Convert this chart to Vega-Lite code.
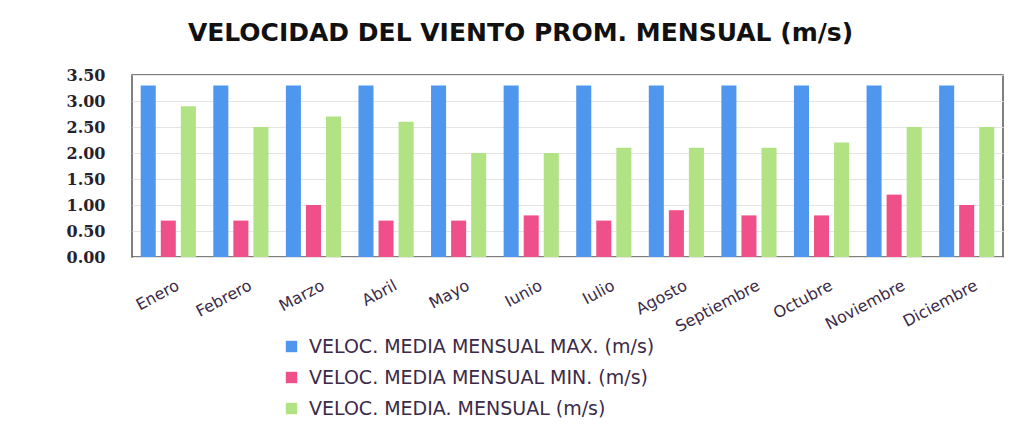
{
  "$schema": "https://vega.github.io/schema/vega-lite/v6.json",
  "width": 871,
  "height": 182,
  "autosize": {"type": "none"},
  "padding": {"left": 132, "top": 75, "right": 17, "bottom": 171},
  "background": "white",
  "title": {
    "text": "VELOCIDAD DEL VIENTO PROM. MENSUAL (m/s)",
    "anchor": "middle",
    "frame": "group",
    "dx": -47,
    "offset": 21,
    "font": "DejaVu Sans",
    "fontSize": 25,
    "fontWeight": "bold",
    "color": "#111111"
  },
  "data": {
    "values": [
      {"mes": "Enero", "serie": "VELOC. MEDIA MENSUAL MAX. (m/s)", "valor": 3.3},
      {"mes": "Febrero", "serie": "VELOC. MEDIA MENSUAL MAX. (m/s)", "valor": 3.3},
      {"mes": "Marzo", "serie": "VELOC. MEDIA MENSUAL MAX. (m/s)", "valor": 3.3},
      {"mes": "Abril", "serie": "VELOC. MEDIA MENSUAL MAX. (m/s)", "valor": 3.3},
      {"mes": "Mayo", "serie": "VELOC. MEDIA MENSUAL MAX. (m/s)", "valor": 3.3},
      {"mes": "Iunio", "serie": "VELOC. MEDIA MENSUAL MAX. (m/s)", "valor": 3.3},
      {"mes": "Iulio", "serie": "VELOC. MEDIA MENSUAL MAX. (m/s)", "valor": 3.3},
      {"mes": "Agosto", "serie": "VELOC. MEDIA MENSUAL MAX. (m/s)", "valor": 3.3},
      {"mes": "Septiembre", "serie": "VELOC. MEDIA MENSUAL MAX. (m/s)", "valor": 3.3},
      {"mes": "Octubre", "serie": "VELOC. MEDIA MENSUAL MAX. (m/s)", "valor": 3.3},
      {"mes": "Noviembre", "serie": "VELOC. MEDIA MENSUAL MAX. (m/s)", "valor": 3.3},
      {"mes": "Diciembre", "serie": "VELOC. MEDIA MENSUAL MAX. (m/s)", "valor": 3.3},
      {"mes": "Enero", "serie": "VELOC. MEDIA MENSUAL MIN. (m/s)", "valor": 0.7},
      {"mes": "Febrero", "serie": "VELOC. MEDIA MENSUAL MIN. (m/s)", "valor": 0.7},
      {"mes": "Marzo", "serie": "VELOC. MEDIA MENSUAL MIN. (m/s)", "valor": 1.0},
      {"mes": "Abril", "serie": "VELOC. MEDIA MENSUAL MIN. (m/s)", "valor": 0.7},
      {"mes": "Mayo", "serie": "VELOC. MEDIA MENSUAL MIN. (m/s)", "valor": 0.7},
      {"mes": "Iunio", "serie": "VELOC. MEDIA MENSUAL MIN. (m/s)", "valor": 0.8},
      {"mes": "Iulio", "serie": "VELOC. MEDIA MENSUAL MIN. (m/s)", "valor": 0.7},
      {"mes": "Agosto", "serie": "VELOC. MEDIA MENSUAL MIN. (m/s)", "valor": 0.9},
      {"mes": "Septiembre", "serie": "VELOC. MEDIA MENSUAL MIN. (m/s)", "valor": 0.8},
      {"mes": "Octubre", "serie": "VELOC. MEDIA MENSUAL MIN. (m/s)", "valor": 0.8},
      {"mes": "Noviembre", "serie": "VELOC. MEDIA MENSUAL MIN. (m/s)", "valor": 1.2},
      {"mes": "Diciembre", "serie": "VELOC. MEDIA MENSUAL MIN. (m/s)", "valor": 1.0},
      {"mes": "Enero", "serie": "VELOC. MEDIA. MENSUAL (m/s)", "valor": 2.9},
      {"mes": "Febrero", "serie": "VELOC. MEDIA. MENSUAL (m/s)", "valor": 2.5},
      {"mes": "Marzo", "serie": "VELOC. MEDIA. MENSUAL (m/s)", "valor": 2.7},
      {"mes": "Abril", "serie": "VELOC. MEDIA. MENSUAL (m/s)", "valor": 2.6},
      {"mes": "Mayo", "serie": "VELOC. MEDIA. MENSUAL (m/s)", "valor": 2.0},
      {"mes": "Iunio", "serie": "VELOC. MEDIA. MENSUAL (m/s)", "valor": 2.0},
      {"mes": "Iulio", "serie": "VELOC. MEDIA. MENSUAL (m/s)", "valor": 2.1},
      {"mes": "Agosto", "serie": "VELOC. MEDIA. MENSUAL (m/s)", "valor": 2.1},
      {"mes": "Septiembre", "serie": "VELOC. MEDIA. MENSUAL (m/s)", "valor": 2.1},
      {"mes": "Octubre", "serie": "VELOC. MEDIA. MENSUAL (m/s)", "valor": 2.2},
      {"mes": "Noviembre", "serie": "VELOC. MEDIA. MENSUAL (m/s)", "valor": 2.5},
      {"mes": "Diciembre", "serie": "VELOC. MEDIA. MENSUAL (m/s)", "valor": 2.5}
    ]
  },
  "mark": {"type": "bar"},
  "encoding": {
    "x": {
      "field": "mes",
      "type": "nominal",
      "sort": ["Enero", "Febrero", "Marzo", "Abril", "Mayo", "Iunio", "Iulio", "Agosto", "Septiembre", "Octubre", "Noviembre", "Diciembre"],
      "scale": {"paddingInner": 0.24, "paddingOuter": 0.12},
      "axis": {
        "title": null,
        "labelAngle": -28,
        "labelAlign": "right",
        "labelBaseline": "top",
        "labelPadding": 20,
        "labelOffset": 6,
        "labelFont": "DejaVu Sans",
        "labelFontSize": 16,
        "labelColor": "#3b2b48",
        "ticks": false,
        "domain": false,
        "grid": false
      }
    },
    "xOffset": {
      "field": "serie",
      "type": "nominal",
      "sort": ["VELOC. MEDIA MENSUAL MAX. (m/s)", "VELOC. MEDIA MENSUAL MIN. (m/s)", "VELOC. MEDIA. MENSUAL (m/s)"],
      "scale": {"paddingInner": 0.25, "paddingOuter": 0}
    },
    "y": {
      "field": "valor",
      "type": "quantitative",
      "scale": {"domain": [0, 3.5]},
      "axis": {
        "title": null,
        "values": [0, 0.5, 1, 1.5, 2, 2.5, 3, 3.5],
        "format": ".2f",
        "labelFont": "DejaVu Serif",
        "labelFontWeight": "bold",
        "labelFontSize": 16,
        "labelColor": "#2a1f2e",
        "labelPadding": 27,
        "ticks": false,
        "domain": false,
        "grid": true,
        "gridColor": "#e4e4e4",
        "gridWidth": 1
      }
    },
    "color": {
      "field": "serie",
      "type": "nominal",
      "sort": ["VELOC. MEDIA MENSUAL MAX. (m/s)", "VELOC. MEDIA MENSUAL MIN. (m/s)", "VELOC. MEDIA. MENSUAL (m/s)"],
      "scale": {
        "domain": ["VELOC. MEDIA MENSUAL MAX. (m/s)", "VELOC. MEDIA MENSUAL MIN. (m/s)", "VELOC. MEDIA. MENSUAL (m/s)"],
        "range": ["#4f97ee", "#f0508a", "#b1e284"]
      },
      "legend": {
        "title": null,
        "orient": "none",
        "legendX": 150,
        "legendY": 262,
        "direction": "vertical",
        "symbolType": "square",
        "symbolSize": 130,
        "symbolStrokeWidth": 0,
        "labelFont": "DejaVu Sans",
        "labelFontSize": 19,
        "labelLimit": 0,
        "labelColor": "#3b2b48",
        "labelOffset": 8,
        "rowPadding": 11
      }
    }
  },
  "config": {
    "view": {"stroke": "#555555", "strokeWidth": 1.5}
  }
}
